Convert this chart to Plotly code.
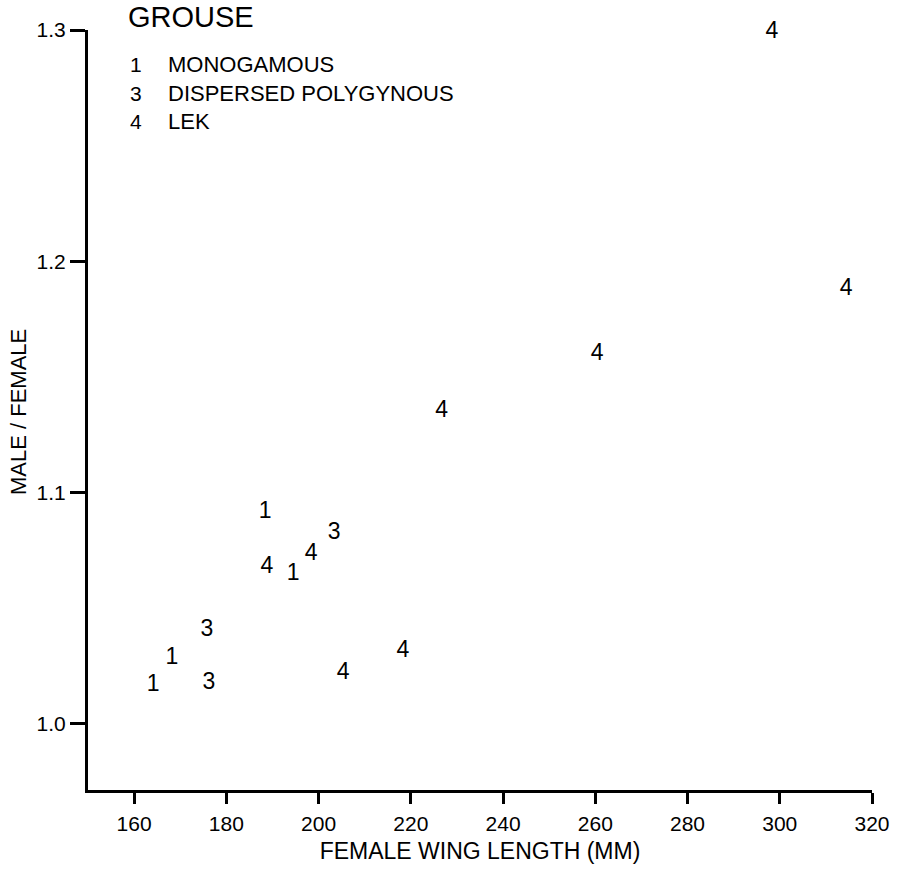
import plotly.graph_objects as go

# Data (female wing length mm, male/female ratio)
mono_x = [188.4, 194.5, 168.2, 164.1]
mono_y = [1.0917, 1.0648, 1.0285, 1.0169]

disp_x = [203.4, 175.8, 176.2]
disp_y = [1.0826, 1.0406, 1.0177]

lek_x = [198.4, 188.8, 205.3, 218.3, 226.7, 260.4, 314.4, 298.3]
lek_y = [1.0735, 1.0679, 1.0220, 1.0313, 1.1350, 1.1600, 1.1880, 1.2989]

x_ticks = [160, 180, 200, 220, 240, 260, 280, 300, 320]
y_ticks = [1.0, 1.1, 1.2, 1.3]
y_ticktext = ["1.0", "1.1", "1.2", "1.3"]

x_title = "FEMALE WING LENGTH (MM)"
y_title = "MALE / FEMALE"

legend_title = "GROUSE"
legend_codes = ["1", "3", "4"]
legend_labels = ["MONOGAMOUS", "DISPERSED POLYGYNOUS", "LEK"]

FONT = "Liberation Sans"

fig = go.Figure()
for xs, ys, code in [(mono_x, mono_y, "1"), (disp_x, disp_y, "3"), (lek_x, lek_y, "4")]:
    fig.add_trace(go.Scatter(
        x=xs, y=ys, mode="text", text=[code] * len(xs),
        textposition="middle center",
        textfont=dict(family=FONT, size=23, color="black"),
        cliponaxis=False, showlegend=False, hoverinfo="x+y",
    ))

axis_common = dict(
    showline=True, linecolor="black", linewidth=3,
    ticks="outside", tickcolor="black", tickwidth=2.5,
    showgrid=False, zeroline=False, automargin=False,
    tickfont=dict(family=FONT, size=21, color="black"),
)

fig.update_xaxes(
    range=[150, 320], tickvals=x_ticks, ticklen=11, ticklabelstandoff=2,
    title=dict(text=x_title, font=dict(family=FONT, size=23, color="black"), standoff=9),
    **axis_common,
)
fig.update_yaxes(
    range=[0.9714, 1.3], tickvals=y_ticks, ticktext=y_ticktext, ticklen=15, ticklabelstandoff=0,
    **axis_common,
)

def px_to_paper_x(px):
    return (px - 88) / 784

def px_to_paper_y(py):
    return (790 - py) / 760

annotations = [dict(
    text=y_title, xref="paper", yref="paper",
    x=px_to_paper_x(18), y=px_to_paper_y(412), xanchor="center", yanchor="middle",
    textangle=-90, showarrow=False, font=dict(family=FONT, size=22, color="black"),
), dict(
    text=legend_title, xref="paper", yref="paper",
    x=px_to_paper_x(126), y=px_to_paper_y(17.5), xanchor="left", yanchor="middle",
    showarrow=False, font=dict(family=FONT, size=29, color="black"),
)]
line_y = [65, 93.5, 121.5]
for code, label, py in zip(legend_codes, legend_labels, line_y):
    annotations.append(dict(
        text=code, xref="paper", yref="paper",
        x=px_to_paper_x(128), y=px_to_paper_y(py), xanchor="left", yanchor="middle",
        showarrow=False, font=dict(family=FONT, size=21, color="black"),
    ))
    annotations.append(dict(
        text=label, xref="paper", yref="paper",
        x=px_to_paper_x(166), y=px_to_paper_y(py), xanchor="left", yanchor="middle",
        showarrow=False, font=dict(family=FONT, size=22, color="black"),
    ))

fig.update_layout(
    width=897, height=869,
    margin=dict(l=88, r=25, t=30, b=79),
    paper_bgcolor="white", plot_bgcolor="white",
    annotations=annotations,
    showlegend=False,
)

fig.write_html("out.html")
